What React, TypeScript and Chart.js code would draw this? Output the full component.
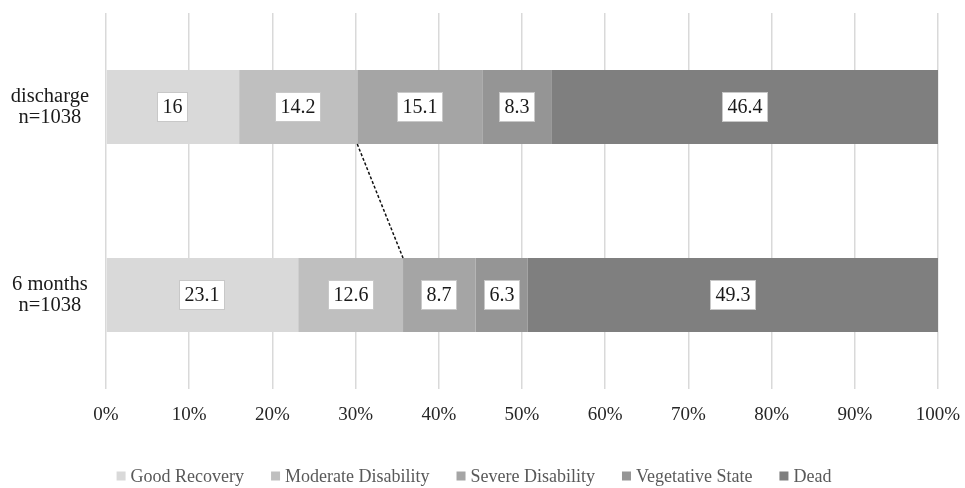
import React, { useEffect, useRef } from "react";
import { Chart, registerables } from "chart.js";

Chart.register(...registerables);

const categories = [
  ["discharge", "n=1038"],
  ["6 months", "n=1038"],
];
const seriesNames = [
  "Good Recovery",
  "Moderate Disability",
  "Severe Disability",
  "Vegetative State",
  "Dead",
];
const goodRecovery = [16, 23.1];
const moderateDisability = [14.2, 12.6];
const severeDisability = [15.1, 8.7];
const vegetativeState = [8.3, 6.3];
const dead = [46.4, 49.3];
const seriesColors = ["#d9d9d9", "#bfbfbf", "#a5a5a5", "#959595", "#7f7f7f"];
const xTickStep = 10;
const xMin = 0;
const xMax = 100;

const SERIF = "'Liberation Serif', 'Times New Roman', serif";

const dataLabelPlugin = {
  id: "dataLabelBoxes",
  afterDatasetsDraw(chart: any) {
    const ctx = chart.ctx;
    ctx.save();
    ctx.font = `20px ${SERIF}`;
    ctx.textAlign = "center";
    ctx.textBaseline = "middle";
    chart.data.datasets.forEach((ds: any, di: number) => {
      const meta = chart.getDatasetMeta(di);
      meta.data.forEach((el: any, i: number) => {
        const p = el.getProps(["x", "base", "y"], true);
        const cx = (p.x + p.base) / 2;
        const cy = p.y;
        const txt = String(ds.data[i]);
        const w = Math.round(ctx.measureText(txt).width + 11);
        const h = 30;
        const x0 = Math.round(cx - w / 2);
        const y0 = Math.round(cy - h / 2);
        ctx.fillStyle = "#ffffff";
        ctx.fillRect(x0, y0, w, h);
        ctx.strokeStyle = "#c8c8c8";
        ctx.lineWidth = 1;
        ctx.strokeRect(x0 + 0.5, y0 + 0.5, w - 1, h - 1);
        ctx.fillStyle = "#1a1a1a";
        ctx.fillText(txt, x0 + w / 2, cy + 1);
      });
    });
    ctx.restore();
  },
};

const connectorPlugin = {
  id: "connector",
  afterDatasetsDraw(chart: any) {
    const meta = chart.getDatasetMeta(1);
    if (!meta || meta.data.length < 2) return;
    const a = meta.data[0].getProps(["x", "y", "height"], true);
    const b = meta.data[1].getProps(["x", "y", "height"], true);
    const ctx = chart.ctx;
    ctx.save();
    ctx.strokeStyle = "#111";
    ctx.lineWidth = 1.5;
    ctx.setLineDash([3, 2]);
    ctx.beginPath();
    ctx.moveTo(a.x, a.y + a.height / 2);
    ctx.lineTo(b.x, b.y - b.height / 2);
    ctx.stroke();
    ctx.restore();
  },
};

const legendPlugin = {
  id: "customLegend",
  afterDraw(chart: any) {
    const ctx = chart.ctx;
    ctx.save();
    ctx.font = `18px ${SERIF}`;
    ctx.textBaseline = "middle";
    ctx.textAlign = "left";
    const box = 9;
    const boxGap = 5;
    const itemGap = 27;
    const items = chart.data.datasets.map((ds: any) => ({
      label: ds.label,
      color: ds.backgroundColor,
      w: box + boxGap + ctx.measureText(ds.label).width,
    }));
    const total = items.reduce((s: number, it: any) => s + it.w, 0) + itemGap * (items.length - 1);
    let x = 474 - total / 2;
    const y = 477;
    items.forEach((it: any) => {
      ctx.fillStyle = it.color;
      ctx.fillRect(x, y - box / 2 - 1, box, box);
      ctx.fillStyle = "#595959";
      ctx.fillText(it.label, x + box + boxGap, y);
      x += it.w + itemGap;
    });
    ctx.restore();
  },
};

export default function App() {
  const ref = useRef<HTMLCanvasElement | null>(null);
  useEffect(() => {
    if (!ref.current) return;
    const values = [goodRecovery, moderateDisability, severeDisability, vegetativeState, dead];
    const chart = new Chart(ref.current, {
      type: "bar",
      data: {
        labels: categories as any,
        datasets: seriesNames.map((name, i) => ({
          label: name,
          data: values[i],
          backgroundColor: seriesColors[i],
          borderWidth: 0,
          barPercentage: 0.394,
          categoryPercentage: 1,
        })),
      },
      options: {
        indexAxis: "y",
        animation: false,
        responsive: false,
        layout: { padding: { top: 13, right: 27, bottom: 59, left: 0 } },
        plugins: {
          legend: { display: false },
          tooltip: { enabled: false },
        },
        scales: {
          x: {
            stacked: true,
            min: xMin,
            max: xMax,
            grid: { color: "#d9d9d9", lineWidth: 1.5, drawTicks: false },
            border: { display: false },
            ticks: {
              stepSize: xTickStep,
              padding: 15,
              color: "#262626",
              font: { family: SERIF, size: 19 },
              callback: (v: any) => `${v}%`,
            },
            afterFit: (s: any) => {
              s.height = 40;
              s.paddingLeft = 0;
              s.paddingRight = 0;
            },
          },
          y: {
            stacked: true,
            grid: { display: false, drawTicks: false },
            border: { display: false },
            ticks: {
              padding: 17,
              crossAlign: "center",
              color: "#1a1a1a",
              font: { family: SERIF, size: 20.5, lineHeight: 1.05 },
            },
            afterFit: (s: any) => {
              s.width = 106;
              s.paddingTop = 0;
              s.paddingBottom = 0;
            },
          },
        },
      },
      plugins: [dataLabelPlugin, connectorPlugin, legendPlugin],
    });
    return () => chart.destroy();
  }, []);
  return (
    <div style={{ position: "absolute", left: 0, top: 0, width: 965, height: 488, background: "#fff" }}>
      <canvas ref={ref} width={965} height={488} style={{ width: 965, height: 488, display: "block" }} />
    </div>
  );
}
